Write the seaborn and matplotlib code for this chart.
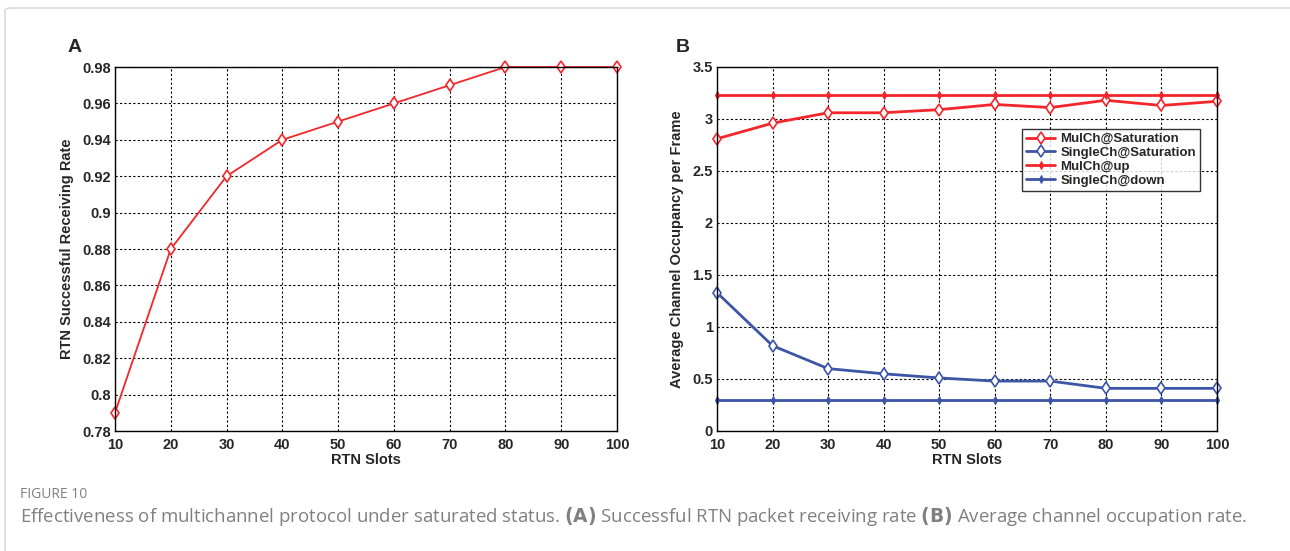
import numpy as np
import pandas as pd
import matplotlib
matplotlib.use("Agg")
import matplotlib.pyplot as plt
import seaborn as sns
from matplotlib.patches import FancyBboxPatch

# ---- data ----
rtn_slots = [10, 20, 30, 40, 50, 60, 70, 80, 90, 100]
recv_rate = [0.79, 0.88, 0.92, 0.94, 0.95, 0.96, 0.97, 0.98, 0.98, 0.98]

mulch_sat = [2.81, 2.96, 3.06, 3.06, 3.09, 3.14, 3.11, 3.18, 3.13, 3.17]
singlech_sat = [1.33, 0.82, 0.60, 0.55, 0.51, 0.48, 0.48, 0.41, 0.41, 0.41]
mulch_up = [3.23] * 10
singlech_down = [0.30] * 10

a_yticks = [0.78, 0.80, 0.82, 0.84, 0.86, 0.88, 0.90, 0.92, 0.94, 0.96, 0.98]
a_yticklabels = ["0.78", "0.8", "0.82", "0.84", "0.86", "0.88", "0.9", "0.92", "0.94", "0.96", "0.98"]
b_yticks = [0, 0.5, 1, 1.5, 2, 2.5, 3, 3.5]
b_yticklabels = ["0", "0.5", "1", "1.5", "2", "2.5", "3", "3.5"]

sns.set_theme(style="white")
FONT = ["Liberation Sans Narrow", "Liberation Sans", "DejaVu Sans"]
plt.rcParams["font.family"] = FONT

RED = "#f2262b"
BLUE = "#3d55a6"

fig = plt.figure(figsize=(12.9, 5.51), dpi=100)

# outer light frame
fig.patches.append(FancyBboxPatch((5 / 1290, -0.05), 1.2, 1.0 - 8 / 551 + 0.05,
                                  boxstyle="round,pad=0,rounding_size=0.005",
                                  transform=fig.transFigure, fill=False,
                                  edgecolor="#d8d8d8", linewidth=1.2))

axA = fig.add_axes([115 / 1290, 1 - 431 / 551, 502 / 1290, 364 / 551])
axB = fig.add_axes([717 / 1290, 1 - 431 / 551, 500 / 1290, 364 / 551])


def style_axes(ax):
    ax.set_xlim(10, 100)
    ax.set_xticks(rtn_slots)
    ax.grid(True, color="black", linestyle=(0, (2, 2)), linewidth=0.8)
    for s in ax.spines.values():
        s.set_color("black")
        s.set_linewidth(1.0)
    ax.tick_params(axis="both", which="both", direction="in", length=3,
                   labelsize=10.5, color="black")
    ax.tick_params(axis="x", pad=5)
    ax.tick_params(axis="y", pad=3)
    for lab in ax.get_xticklabels() + ax.get_yticklabels():
        lab.set_fontweight("bold")
    ax.set_xlabel("RTN Slots", fontsize=10.5, fontweight="bold", labelpad=1)
    for line in ax.get_lines():
        line.set_clip_on(False)


dfA = pd.DataFrame({"slots": rtn_slots, "rate": recv_rate})
sns.lineplot(data=dfA, x="slots", y="rate", ax=axA, color=RED, linewidth=1.3,
             marker="d", markersize=6.5, markerfacecolor="white",
             markeredgecolor=RED, markeredgewidth=1.2)
axA.set_ylim(0.78, 0.98)
axA.set_yticks(a_yticks)
axA.set_yticklabels(a_yticklabels)
style_axes(axA)
axA.set_ylabel("RTN Successful Receiving Rate", fontsize=10.5, fontweight="bold", labelpad=6)

series = [
    ("MulCh@Saturation", mulch_sat, RED, True),
    ("SingleCh@Saturation", singlech_sat, BLUE, True),
    ("MulCh@up", mulch_up, RED, False),
    ("SingleCh@down", singlech_down, BLUE, False),
]
for name, vals, col, hollow in series:
    d = pd.DataFrame({"slots": rtn_slots, "val": vals})
    if hollow:
        sns.lineplot(data=d, x="slots", y="val", ax=axB, color=col, linewidth=2.0,
                     marker="d", markersize=6.5, markerfacecolor="white",
                     markeredgecolor=col, markeredgewidth=1.2, label=name)
    else:
        sns.lineplot(data=d, x="slots", y="val", ax=axB, color=col, linewidth=2.0,
                     marker="d", markersize=4, markerfacecolor=col,
                     markeredgecolor=col, label=name)
axB.set_ylim(0, 3.5)
axB.set_yticks(b_yticks)
axB.set_yticklabels(b_yticklabels)
style_axes(axB)
axB.set_ylabel("Average Channel Occupancy per Frame", fontsize=10.5, fontweight="bold", labelpad=6)
leg = axB.legend(loc="upper right", bbox_to_anchor=((1200 - 717) / 500, (431 - 129) / 364),
                 borderaxespad=0, frameon=True,
                 fancybox=False, edgecolor="black",
                 handlelength=2.2, handletextpad=0.4, borderpad=0.3,
                 labelspacing=0.12, prop={"weight": "bold", "size": 9.5, "family": FONT})
leg.get_frame().set_linewidth(1.0)

# panel labels
fig.text(68 / 1290, 1 - 47 / 551, "A", fontsize=14, fontweight="bold",
         va="center", ha="left", family=["Liberation Sans", "DejaVu Sans"])
fig.text(676 / 1290, 1 - 47 / 551, "B", fontsize=14, fontweight="bold",
         va="center", ha="left", family=["Liberation Sans", "DejaVu Sans"])

# caption
fig.text(20 / 1290, 1 - 494 / 551, "FIGURE 10", fontsize=10, color="#808080",
         va="center", ha="left", family=["Open Sans", "DejaVu Sans"])
fig.text(20 / 1290, 1 - 517 / 551,
         "Effectiveness of multichannel protocol under saturated status. $\\bf{(A)}$ Successful RTN packet "
         "receiving rate $\\bf{(B)}$ Average channel occupation rate.",
         fontsize=13.4, color="#808080", va="center", ha="left",
         family=["Open Sans", "DejaVu Sans"])

fig.savefig("out.png", dpi=100)
